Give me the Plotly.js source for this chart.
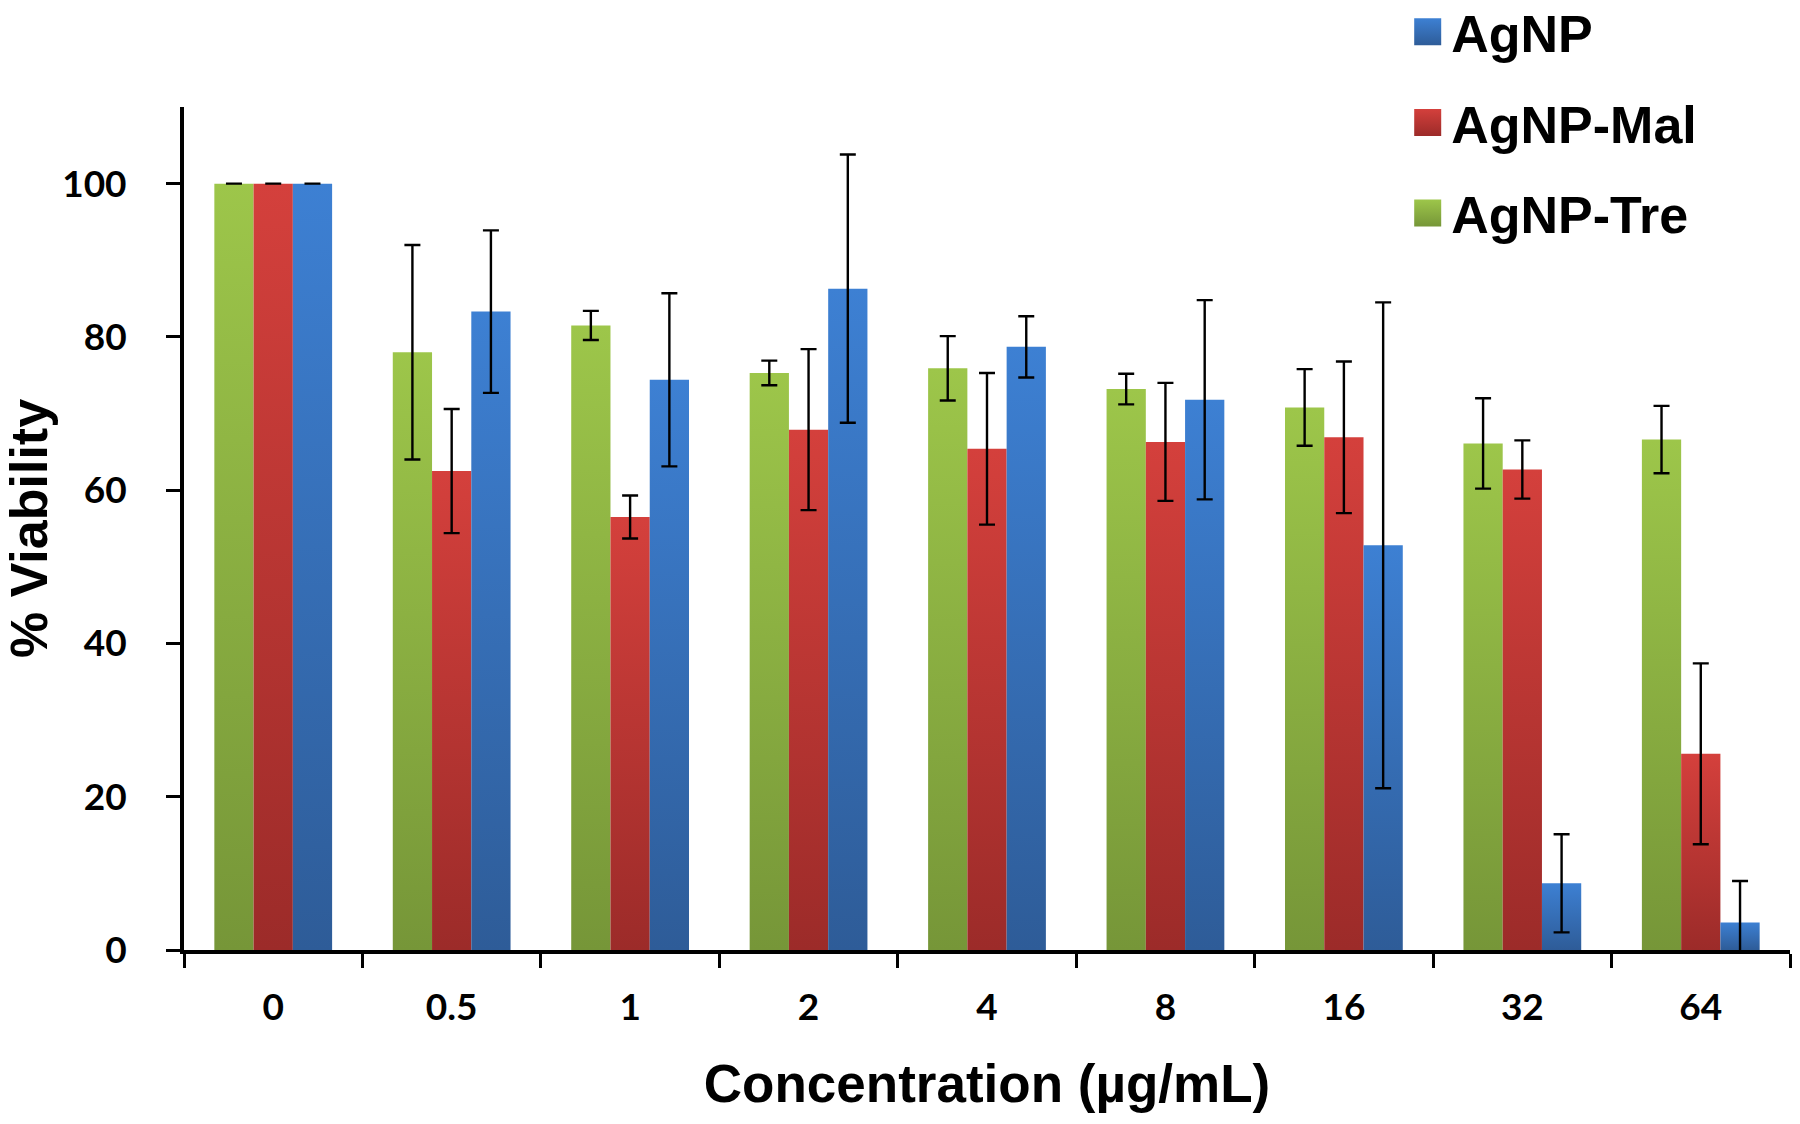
<!DOCTYPE html>
<html>
<head>
<meta charset="utf-8">
<script src="https://cdn.plot.ly/plotly-3.0.1.min.js"></script>
<style>
  html, body { margin: 0; padding: 0; background: #ffffff; }
  #chart { width: 1800px; height: 1124px; }
</style>
</head>
<body>
<div id="chart"></div>
<script>
// ---- data ----
const categories = ['0', '0.5', '1', '2', '4', '8', '16', '32', '64'];

const treValues = [100, 78.0, 81.5, 75.3, 75.9, 73.2, 70.8, 66.1, 66.6];
const treErrors = [0, 14.0, 1.9, 1.6, 4.2, 2.0, 5.0, 5.9, 4.4];

const malValues = [100, 62.5, 56.5, 67.9, 65.4, 66.3, 66.9, 62.7, 25.6];
const malErrors = [0, 8.1, 2.8, 10.5, 9.9, 7.7, 9.9, 3.8, 11.8];

const agnpValues = [100, 83.3, 74.4, 86.3, 78.7, 71.8, 52.8, 8.7, 3.6];
const agnpErrors = [0, 10.6, 11.3, 17.5, 4.0, 13.0, 31.7, 6.4, 5.4];

const seriesNames = ['AgNP-Tre', 'AgNP-Mal', 'AgNP'];
const legendRanks = [3, 2, 1];
const yTicks = [0, 20, 40, 60, 80, 100];

// ---- styles ----
const colors = {
  'AgNP-Tre': ['#9dc64a', '#769638', '#8aae42'],
  'AgNP-Mal': ['#d4403c', '#9c2b29', '#bb3633'],
  'AgNP':     ['#3d80d3', '#2e5c98', '#3570ba']
};

function errBar(arr) {
  return { type: 'data', array: arr, visible: true, color: '#000000', thickness: 2.4, width: 8 };
}

const valueSets = [treValues, malValues, agnpValues];
const errorSets = [treErrors, malErrors, agnpErrors];

const traces = seriesNames.map((name, i) => ({
  type: 'bar',
  name: name,
  legendgroup: name,
  legendrank: legendRanks[i],
  x: categories,
  y: valueSets[i],
  error_y: errBar(errorSets[i]),
  marker: { color: colors[name][2], line: { width: 0 } },
  hoverinfo: 'x+y+name'
}));

const layout = {
  width: 1800,
  height: 1124,
  paper_bgcolor: '#ffffff',
  plot_bgcolor: '#ffffff',
  margin: { l: 184, r: 10, t: 107, b: 174, autoexpand: false },
  barmode: 'group',
  bargap: 0.34,
  bargroupgap: 0,
  showlegend: true,
  legend: {
    xref: 'container', yref: 'container',
    x: 0.784, xanchor: 'left',
    y: 0.891, yanchor: 'middle',
    traceorder: 'grouped',
    tracegroupgap: 20,
    font: { family: 'Liberation Sans, Arial, sans-serif', size: 52, color: '#000000', weight: 700 },
    bgcolor: 'rgba(0,0,0,0)',
    borderwidth: 0
  },
  xaxis: {
    type: 'category',
    showline: true, linecolor: '#000000', linewidth: 4,
    ticks: 'outside', tickson: 'boundaries', ticklen: 14, tickwidth: 3, tickcolor: '#000000',
    showgrid: false, zeroline: false,
    ticklabelstandoff: 22,
    tickfont: { family: 'Lato, Open Sans, sans-serif', size: 37, color: '#000000', weight: 700 },
    title: {
      text: 'Concentration (µg/mL)',
      font: { family: 'Liberation Sans, Arial, sans-serif', size: 53, color: '#000000', weight: 700 },
      standoff: 38
    }
  },
  yaxis: {
    range: [0, 110],
    tickmode: 'array', tickvals: yTicks, ticktext: yTicks.map(String),
    showline: true, linecolor: '#000000', linewidth: 4,
    ticks: 'outside', ticklen: 14, tickwidth: 3, tickcolor: '#000000',
    showgrid: false, zeroline: false,
    ticklabelstandoff: 32,
    tickfont: { family: 'Lato, Open Sans, sans-serif', size: 37, color: '#000000', weight: 700 },
    title: {
      text: '% Viability',
      font: { family: 'Liberation Sans, Arial, sans-serif', size: 52, color: '#000000', weight: 700 },
      standoff: 20
    }
  }
};

const gd = document.getElementById('chart');
Plotly.newPlot(gd, traces, layout, { displayModeBar: false, staticPlot: true }).then(() => {
  // vertical gradients like the reference's shaded bars
  const svg = gd.querySelector('.main-svg');
  let defs = svg.querySelector('defs');
  if (!defs) { defs = document.createElementNS('http://www.w3.org/2000/svg', 'defs'); svg.insertBefore(defs, svg.firstChild); }
  const ids = {};
  seriesNames.forEach((name, i) => {
    const id = 'grad' + i;
    ids[name] = id;
    const g = document.createElementNS('http://www.w3.org/2000/svg', 'linearGradient');
    g.setAttribute('id', id);
    g.setAttribute('x1', '0'); g.setAttribute('y1', '0');
    g.setAttribute('x2', '0'); g.setAttribute('y2', '1');
    [[0, colors[name][0]], [1, colors[name][1]]].forEach(([o, c]) => {
      const s = document.createElementNS('http://www.w3.org/2000/svg', 'stop');
      s.setAttribute('offset', o); s.setAttribute('stop-color', c);
      g.appendChild(s);
    });
    defs.appendChild(g);
  });
  const barTraces = gd.querySelectorAll('.barlayer .trace');
  barTraces.forEach((t, i) => {
    t.querySelectorAll('.point path').forEach(p => { p.style.fill = 'url(#' + ids[seriesNames[i]] + ')'; });
  });
  gd.querySelectorAll('.legend .traces').forEach(t => {
    const name = t.querySelector('.legendtext').textContent;
    t.querySelectorAll('.legendpoints path').forEach(p => {
      p.removeAttribute('transform');
      p.setAttribute('d', 'M30,13.5H3V-13.5H30Z');
      p.style.fill = 'url(#' + ids[name] + ')';
      p.style.strokeWidth = '0';
    });
  });
});
</script>
</body>
</html>
